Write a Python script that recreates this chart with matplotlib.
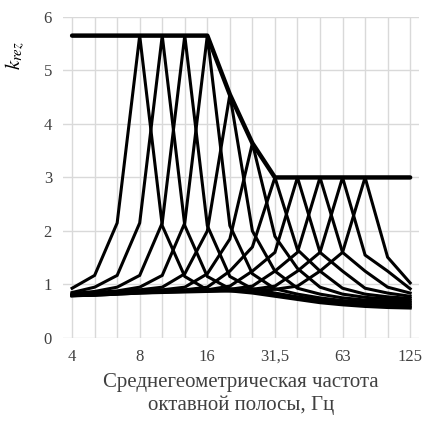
import matplotlib
matplotlib.use('Agg')
import matplotlib.pyplot as plt
import numpy as np

plt.rcParams['font.family'] = ['Liberation Serif', 'DejaVu Serif']
plt.rcParams['mathtext.fontset'] = 'stix'

# 1/3-октавные частоты (подписаны только октавные)
freqs = ['4', '5', '6,3', '8', '10', '12,5', '16', '20', '25', '31,5', '40', '50', '63', '80', '100', '125']
tick_labels = ['4', '', '', '8', '', '', '16', '', '', '31,5', '', '', '63', '', '', '125']

envelope = [5.65, 5.65, 5.65, 5.65, 5.65, 5.65, 5.65, 4.55, 3.64, 3.0, 3.0, 3.0, 3.0, 3.0, 3.0, 3.0]

curves = [
    [0.93, 1.17, 2.15, 5.65, 2.10, 1.15, 0.90, 0.88, 0.84, 0.78, 0.72, 0.66, 0.62, 0.59, 0.57, 0.56],
    [0.85, 0.95, 1.17, 2.15, 5.65, 2.10, 1.15, 0.92, 0.87, 0.80, 0.74, 0.68, 0.64, 0.61, 0.59, 0.58],
    [0.83, 0.87, 0.95, 1.17, 2.15, 5.65, 2.10, 1.15, 0.92, 0.84, 0.77, 0.71, 0.67, 0.64, 0.62, 0.61],
    [0.82, 0.85, 0.88, 0.95, 1.17, 2.15, 5.65, 2.10, 1.20, 0.92, 0.82, 0.75, 0.70, 0.67, 0.65, 0.64],
    [0.81, 0.83, 0.86, 0.90, 0.95, 1.20, 2.00, 4.55, 2.00, 1.25, 0.93, 0.82, 0.75, 0.71, 0.69, 0.67],
    [0.80, 0.82, 0.85, 0.88, 0.90, 0.95, 1.20, 1.85, 3.64, 1.90, 1.30, 0.95, 0.82, 0.76, 0.73, 0.70],
    [0.80, 0.82, 0.84, 0.87, 0.89, 0.90, 0.95, 1.25, 1.70, 3.00, 1.65, 1.25, 0.93, 0.82, 0.77, 0.74],
    [0.80, 0.81, 0.83, 0.86, 0.88, 0.89, 0.90, 0.97, 1.25, 1.60, 3.00, 1.60, 1.25, 0.93, 0.84, 0.78],
    [0.79, 0.81, 0.83, 0.85, 0.87, 0.88, 0.89, 0.91, 0.97, 1.25, 1.60, 3.00, 1.60, 1.25, 0.95, 0.84],
    [0.79, 0.80, 0.82, 0.84, 0.86, 0.87, 0.88, 0.89, 0.91, 0.97, 1.25, 1.60, 3.00, 1.55, 1.25, 0.92],
    [0.79, 0.80, 0.82, 0.84, 0.85, 0.86, 0.87, 0.88, 0.89, 0.91, 0.97, 1.25, 1.60, 3.00, 1.51, 1.03],
]

x = np.arange(len(freqs))

fig, ax = plt.subplots(figsize=(4.38, 4.22), dpi=100)
fig.subplots_adjust(left=0.144, right=0.957, top=0.96, bottom=0.199)

for c in curves:
    ax.plot(x, c, color='black', lw=2.2, solid_joinstyle='miter')
ax.plot(x, envelope, color='black', lw=3.2, solid_capstyle='round')

ax.set_xlim(-0.4, len(freqs) - 0.6)
ax.set_ylim(0, 6)
ax.set_xticks(x)
ax.set_xticklabels(tick_labels, fontsize=12, color='#404040')
ax.set_yticks(range(7))
ax.tick_params(labelsize=12, colors='#404040', length=0, pad=8)
ax.grid(True, color='#d9d9d9', lw=1)
ax.set_axisbelow(True)
for s in ax.spines.values():
    s.set_visible(False)

ax.set_ylabel(r'$k_{rez}$', fontsize=15)
ax.yaxis.set_label_coords(-0.1, 0.88)
ax.set_xlabel('Среднегеометрическая частота\nоктавной полосы, Гц', fontsize=15, color='#404040', labelpad=6)

fig.savefig('out.png')
